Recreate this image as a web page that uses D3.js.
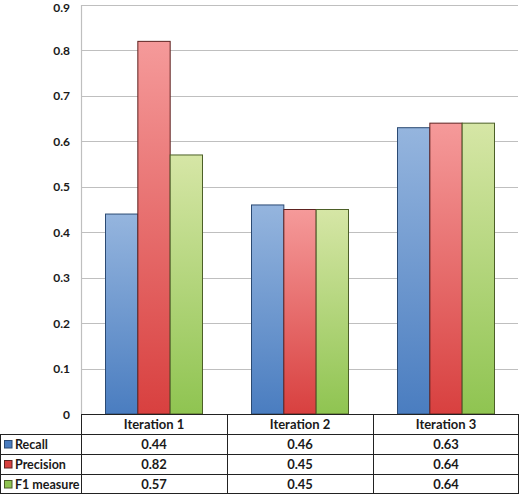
<!DOCTYPE html>
<html lang="en">
<head>
<meta charset="UTF-8">
<title>Iterations</title>
<script src="https://d3js.org/d3.v7.min.js"></script>
<style>
  body { margin: 0; background: #fff; }
  text { font-family: Lato, "Open Sans", sans-serif; font-weight: bold; fill: #1a1a1a; }
</style>
</head>
<body>
<div id="chart"></div>
<script>
const iterations = ["Iteration 1", "Iteration 2", "Iteration 3"];
const seriesNames = ["Recall", "Precision", "F1 measure"];
const recall = [0.44, 0.46, 0.63];
const precision = [0.82, 0.45, 0.64];
const f1 = [0.57, 0.45, 0.64];
const yTicks = [0, 0.1, 0.2, 0.3, 0.4, 0.5, 0.6, 0.7, 0.8, 0.9];

const series = [
  { name: seriesNames[0], values: recall, top: "#95b5de", bottom: "#4a7dc0", stroke: "#2b4a73" },
  { name: seriesNames[1], values: precision, top: "#f59a9a", bottom: "#d8403f", stroke: "#5e2220" },
  { name: seriesNames[2], values: f1, top: "#d6e6a6", bottom: "#8fc451", stroke: "#4c5f27" }
];

const W = 520, H = 494;
const plotLeft = 81, plotRight = 519, plotTop = 5, base = 414;
const rowH = 20;

const svg = d3.select("#chart").append("svg").attr("width", W).attr("height", H);
const defs = svg.append("defs");
series.forEach((s, i) => {
  const g = defs.append("linearGradient").attr("id", "grad" + i)
    .attr("x1", 0).attr("y1", 0).attr("x2", 0).attr("y2", 1);
  g.append("stop").attr("offset", "0%").attr("stop-color", s.top);
  g.append("stop").attr("offset", "100%").attr("stop-color", s.bottom);
});

const y = d3.scaleLinear().domain([0, 0.9]).range([base, plotTop]);
const x0 = d3.scaleBand().domain(iterations).range([plotLeft, plotRight]).paddingInner(0).paddingOuter(0);
const x1 = d3.scaleBand().domain(seriesNames).range([24.5, x0.bandwidth() - 24.5]);

// gridlines
svg.append("g").selectAll("line").data(yTicks.filter(d => d > 0)).enter().append("line")
  .attr("x1", plotLeft).attr("x2", plotRight - 1)
  .attr("y1", d => Math.round(y(d)) + 0.5).attr("y2", d => Math.round(y(d)) + 0.5)
  .attr("stroke", "#bfbfbf").attr("stroke-width", 1.2);
svg.append("line").attr("x1", plotLeft + 0.5).attr("x2", plotLeft + 0.5).attr("y1", plotTop).attr("y2", base)
  .attr("stroke", "#bfbfbf").attr("stroke-width", 1.2);

// y tick labels (top one nudged so it stays inside the page)
svg.append("g").selectAll("text").data(yTicks).enter().append("text")
  .attr("x", 70).attr("y", d => Math.max(y(d) + 4.5, 12))
  .attr("text-anchor", "end").attr("font-size", 12)
  .text(d => d === 0 ? "0" : d3.format(".1f")(d));

// bars
const groups = svg.append("g").selectAll("g").data(iterations).enter().append("g")
  .attr("transform", d => `translate(${x0(d)},0)`);
series.forEach((s, si) => {
  groups.append("rect")
    .attr("x", x1(s.name))
    .attr("y", (d, i) => y(s.values[i]))
    .attr("width", x1.bandwidth())
    .attr("height", (d, i) => base - y(s.values[i]))
    .attr("fill", `url(#grad${si})`)
    .attr("stroke", s.stroke).attr("stroke-width", 1);
});

// data table
const table = svg.append("g");
const lineColor = "#222";
table.append("line").attr("x1", plotLeft).attr("x2", plotRight).attr("y1", base + 0.5).attr("y2", base + 0.5)
  .attr("stroke", lineColor);
for (let r = 1; r <= 4; r++) {
  const yy = Math.min(base + r * rowH, H - 1) + 0.5;
  table.append("line").attr("x1", 0).attr("x2", plotRight).attr("y1", yy).attr("y2", yy).attr("stroke", lineColor);
}
table.append("line").attr("x1", 0.5).attr("x2", 0.5).attr("y1", base + rowH).attr("y2", H).attr("stroke", lineColor);
iterations.forEach(it => {
  const xx = Math.round(x0(it)) + 0.5;
  table.append("line").attr("x1", xx).attr("x2", xx).attr("y1", base).attr("y2", H).attr("stroke", lineColor);
});
table.append("line").attr("x1", plotRight - 0.5).attr("x2", plotRight - 0.5).attr("y1", base).attr("y2", H).attr("stroke", lineColor);

// header
table.selectAll("text.hdr").data(iterations).enter().append("text").attr("class", "hdr")
  .attr("x", d => x0(d) + x0.bandwidth() / 2).attr("y", base + 15)
  .attr("text-anchor", "middle").attr("font-size", 13).text(d => d);

// rows
series.forEach((s, si) => {
  const ry = base + rowH * (si + 1);
  table.append("rect").attr("x", 4.5).attr("y", ry + 6.5).attr("width", 7.5).attr("height", 7.5)
    .attr("fill", s.bottom).attr("stroke", s.stroke).attr("stroke-width", 1);
  table.append("text").attr("x", 15).attr("y", ry + 14.5).attr("font-size", 12.5).text(s.name);
  table.selectAll(null).data(iterations).enter().append("text")
    .attr("x", d => x0(d) + x0.bandwidth() / 2).attr("y", ry + 14.5)
    .attr("text-anchor", "middle").attr("font-size", 13)
    .text((d, i) => d3.format(".2f")(s.values[i]));
});
</script>
</body>
</html>
